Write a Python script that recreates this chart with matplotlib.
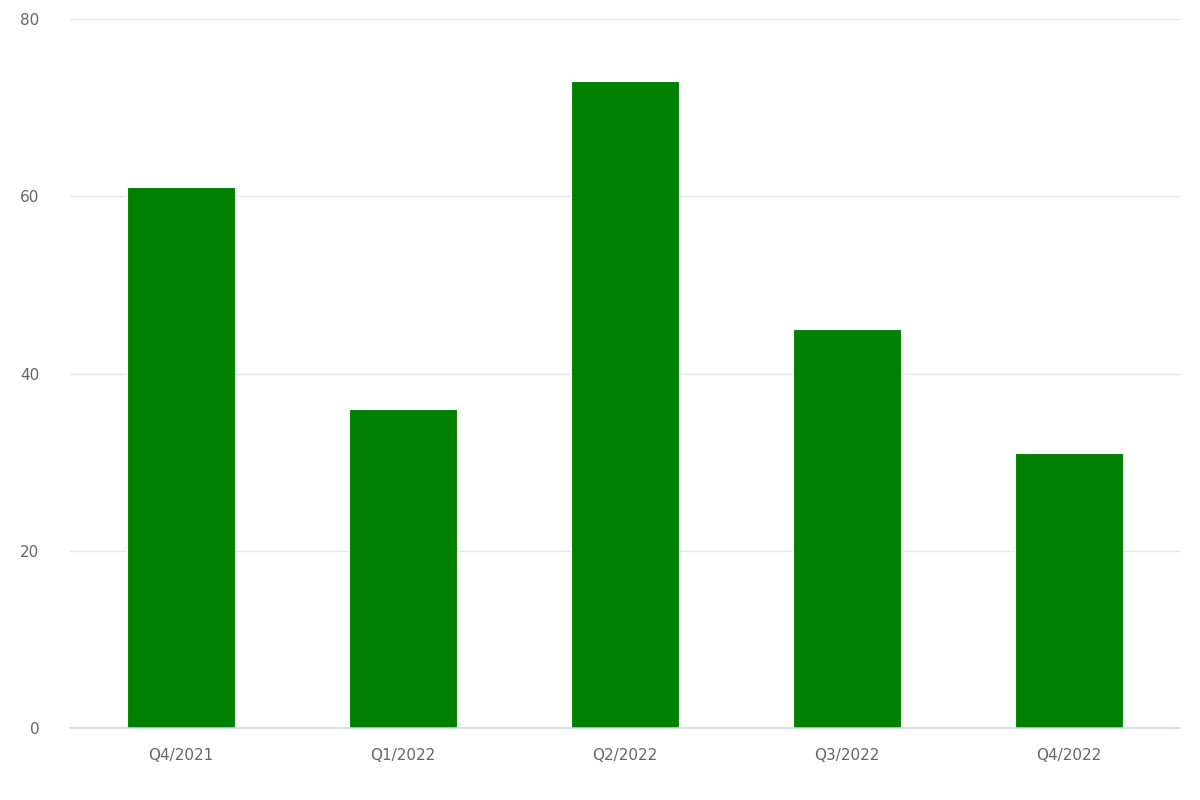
import matplotlib
matplotlib.use("Agg")
import matplotlib.pyplot as plt

plt.rcParams["font.family"] = ["DejaVu Sans"]

categories = ["Q4/2021", "Q1/2022", "Q2/2022", "Q3/2022", "Q4/2022"]
values = [61, 36, 73, 45, 31]
yticks = [0, 20, 40, 60, 80]

fig = plt.figure(figsize=(12, 8), dpi=100)
ax = fig.add_axes([70/1200, 72/800, 1110/1200, 709/800])
x = list(range(len(categories)))
ax.bar(x, values, width=0.485, color="#008000", edgecolor="white", linewidth=0.8, zorder=3)
ax.set_xlim(-0.5, len(categories) - 0.5)
ax.set_ylim(0, 80)
ax.set_yticks(yticks)
ax.set_xticks(x)
ax.set_xticklabels(categories)
ax.grid(axis="y", color="#e6e6e6", linewidth=1.0, zorder=0)
for s in ["top", "right", "left"]:
    ax.spines[s].set_visible(False)
ax.spines["bottom"].set_color("#ccd6eb")
ax.spines["bottom"].set_linewidth(1.1)
ax.spines["bottom"].set_zorder(4)
ax.tick_params(axis="both", length=0, colors="#666666", labelsize=11)
ax.tick_params(axis="x", pad=14.5)
ax.tick_params(axis="y", pad=22)
fig.savefig("out.png", dpi=100)
